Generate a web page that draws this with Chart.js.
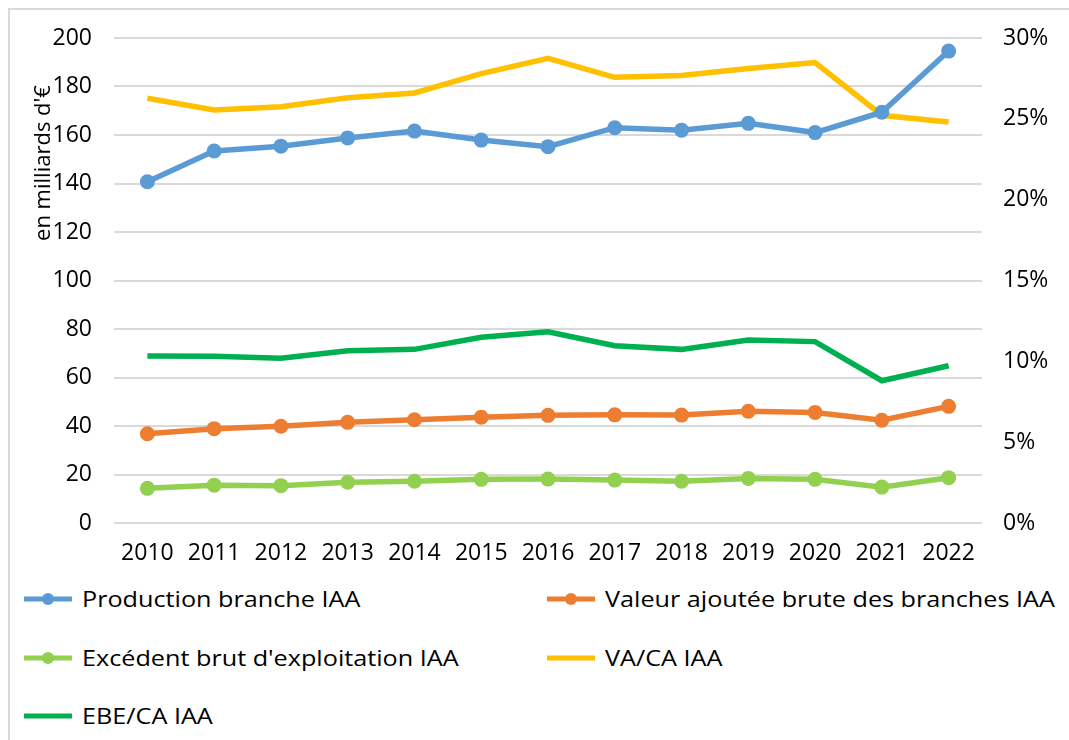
<!DOCTYPE html>
<html>
<head>
<meta charset="utf-8">
<script src="https://cdn.jsdelivr.net/npm/chart.js@4"></script>
<style>
  body { margin: 0; background: #fff; font-family: "Open Sans", sans-serif; }
  #wrap { position: relative; width: 1069px; height: 740px; overflow: hidden; }
  #frame { position: absolute; left: 8px; top: 8px; width: 1100px; height: 800px; border: 2px solid #d9d9d9; }
  #chart { position: absolute; left: 0; top: 0; }
  #legend { position: absolute; left: 0; top: 570px; width: 1069px; }
  .item { position: absolute; height: 30px; display: flex; align-items: center; font-size: 21px; color: #000; white-space: nowrap; }
  .item span { display: inline-block; transform: scaleX(1.2); transform-origin: left center; }
  .sym { width: 60px; height: 30px; }
</style>
</head>
<body>
<div id="wrap">
  <div id="frame"></div>
  <canvas id="chart" width="1069" height="570"></canvas>
  <div id="legend"></div>
</div>
<script>
const years = ['2010','2011','2012','2013','2014','2015','2016','2017','2018','2019','2020','2021','2022'];

// en milliards d'€ (axe gauche)
const production = [140.7, 153.4, 155.4, 158.8, 161.6, 157.9, 155.2, 163.0, 162.0, 164.8, 161.0, 169.4, 194.6];
const valeurAjoutee = [36.8, 38.9, 39.9, 41.5, 42.6, 43.6, 44.4, 44.6, 44.5, 46.1, 45.6, 42.4, 48.1];
const excedent = [14.3, 15.6, 15.4, 16.8, 17.2, 18.0, 18.1, 17.7, 17.2, 18.4, 18.0, 14.8, 18.7];

// ratios en % (axe droit)
const vaCa = [26.27, 25.55, 25.75, 26.3, 26.6, 27.8, 28.74, 27.57, 27.68, 28.12, 28.48, 25.22, 24.8];
const ebeCa = [10.33, 10.31, 10.19, 10.66, 10.74, 11.49, 11.83, 10.97, 10.74, 11.32, 11.22, 8.8, 9.73];

const leftTicks = [0, 20, 40, 60, 80, 100, 120, 140, 160, 180, 200];
const rightTicks = ['0%', '5%', '10%', '15%', '20%', '25%', '30%'];

const blue = '#5B9BD5', orange = '#ED7D31', lightGreen = '#92D050', yellow = '#FFC000', darkGreen = '#00B050';

function lineSet(label, data, color, axis, markers) {
  return {
    label: label, data: data, yAxisID: axis,
    borderColor: color, backgroundColor: color,
    borderWidth: 5.5, tension: 0,
    pointRadius: markers ? 7.5 : 0, pointHoverRadius: markers ? 7.5 : 0,
    pointBorderWidth: 0, pointBackgroundColor: color
  };
}

const datasets = [
  lineSet('Production branche IAA', production, blue, 'y', true),
  lineSet('Valeur ajoutée brute des branches IAA', valeurAjoutee, orange, 'y', true),
  lineSet("Excédent brut d'exploitation IAA", excedent, lightGreen, 'y', true),
  lineSet('VA/CA IAA', vaCa, yellow, 'y2', false),
  lineSet('EBE/CA IAA', ebeCa, darkGreen, 'y2', false)
];
// ratios drawn behind
datasets[3].order = 2; datasets[4].order = 2;

const yTitle = {
  id: 'yTitle',
  afterDraw(chart) {
    const ctx = chart.ctx;
    ctx.save();
    ctx.translate(50, 163);
    ctx.rotate(-Math.PI / 2);
    ctx.font = '22px "Open Sans"';
    ctx.fillStyle = '#000';
    ctx.textAlign = 'center';
    ctx.textBaseline = 'alphabetic';
    ctx.fillText("en milliards d'€", 0, 0);
    ctx.restore();
  }
};

const tickFont = { family: 'Open Sans', size: 23 };

const chart = new Chart(document.getElementById('chart'), {
  type: 'line',
  data: { labels: years, datasets: datasets },
  options: {
    responsive: false,
    animation: false,
    layout: { padding: { top: 38, left: 0, right: 0, bottom: 0 } },
    plugins: { legend: { display: false }, tooltip: { enabled: false } },
    scales: {
      x: {
        offset: true,
        grid: { display: false, drawTicks: false },
        border: { display: false },
        ticks: { color: '#000', font: tickFont, padding: 17, maxRotation: 0 },
        afterFit(s) { s.height = 47; }
      },
      y: {
        position: 'left', min: 0, max: 200,
        afterBuildTicks(s) { s.ticks = leftTicks.map(v => ({ value: v })); },
        grid: { color: '#d9d9d9', lineWidth: 2, drawTicks: false },
        border: { display: false },
        ticks: { color: '#000', font: tickFont, padding: 22 },
        afterFit(s) { s.width = 114; }
      },
      y2: {
        position: 'right', min: 0, max: 30,
        afterBuildTicks(s) { s.ticks = rightTicks.map(t => ({ value: parseFloat(t) })); },
        grid: { display: false, drawTicks: false },
        border: { display: false },
        ticks: { color: '#000', font: tickFont, padding: 21, callback: v => v + '%' },
        afterFit(s) { s.width = 87; }
      }
    }
  },
  plugins: [yTitle]
});

// legend in two columns, like the original
const legend = document.getElementById('legend');
const pos = [[22, 14], [545, 14], [22, 73], [545, 73], [22, 131]];
chart.data.datasets.forEach((ds, i) => {
  const item = document.createElement('div');
  item.className = 'item';
  item.style.left = pos[i][0] + 'px';
  item.style.top = pos[i][1] + 'px';
  const c = document.createElement('canvas');
  c.width = 60; c.height = 30; c.className = 'sym';
  const g = c.getContext('2d');
  g.strokeStyle = ds.borderColor; g.lineWidth = 5;
  g.beginPath(); g.moveTo(2, 15); g.lineTo(50, 15); g.stroke();
  if (ds.pointRadius > 0) {
    g.fillStyle = ds.borderColor;
    g.beginPath(); g.arc(26, 15, 6, 0, Math.PI * 2); g.fill();
  }
  item.appendChild(c);
  const t = document.createElement('span');
  t.textContent = ds.label;
  item.appendChild(t);
  legend.appendChild(item);
});
</script>
</body>
</html>
